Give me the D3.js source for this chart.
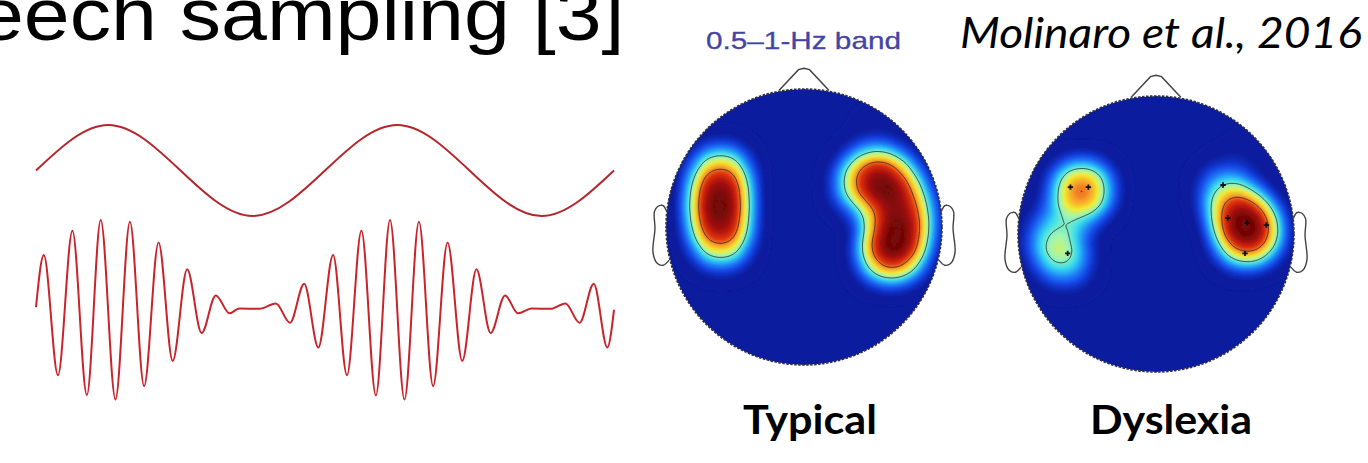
<!DOCTYPE html>
<html>
<head>
<meta charset="utf-8">
<script src="https://cdn.jsdelivr.net/npm/d3@7"></script>
<style>
  body { margin: 0; background: #fff; }
  svg { display: block; }
</style>
</head>
<body>
<svg id="chart" width="1368" height="463"></svg>
<script>
// ---- data ----
// slow envelope (two cycles), time in cycles, amplitude -1..1
const sineT = [0, 0.25, 0.5, 0.75, 1, 1.25, 1.5, 1.75, 2];
const sineV = [0, 1, 0, -1, 0, 1, 0, -1, 0];

// modulated carrier, extrema
const carrierT = [0, 0.027, 0.076, 0.126, 0.176, 0.224, 0.275, 0.325, 0.374, 0.424, 0.473, 0.523, 0.573, 0.622, 0.670, 0.703, 0.773, 0.830, 0.879, 0.928, 0.977,
                  1.028, 1.076, 1.126, 1.176, 1.225, 1.275, 1.325, 1.374, 1.424, 1.475, 1.524, 1.573, 1.623, 1.668, 1.715, 1.781, 1.832, 1.881, 1.930, 1.977, 2.0];
const carrierV = [0.03, 0.61, -0.73, 0.88, -0.95, 1.0, -1.0, 0.98, -0.85, 0.75, -0.57, 0.45, -0.26, 0.16, -0.04, 0.015, 0.01, 0.07, -0.145, 0.29, -0.42,
                  0.61, -0.73, 0.88, -0.955, 1.0, -1.0, 0.98, -0.85, 0.75, -0.57, 0.45, -0.26, 0.16, -0.04, 0.015, 0.01, 0.07, -0.145, 0.29, -0.42, 0.0];

// scalp sources in head units (x right, y towards nose), with weight
const typicalSources = [
  {x: -0.60, y: 0.41, w: 0.85}, {x: -0.61, y: 0.28, w: 1}, {x: -0.62, y: 0.15, w: 1},
  {x: -0.61, y: 0.02, w: 1}, {x: -0.60, y: -0.12, w: 0.85},
  {x: 0.40, y: 0.30, w: 0.8}, {x: 0.51, y: 0.37, w: 0.9}, {x: 0.62, y: 0.34, w: 0.9},
  {x: 0.70, y: 0.21, w: 0.8}, {x: 0.73, y: 0.07, w: 0.8}, {x: 0.71, y: -0.07, w: 0.8},
  {x: 0.60, y: -0.09, w: 0.6}, {x: 0.67, y: -0.21, w: 0.85}, {x: 0.57, y: -0.21, w: 0.6},
  {x: 0.50, y: 0.70, w: 0.12}
];
const dyslexiaSources = [
  {x: -0.58, y: 0.32, w: 0.7}, {x: -0.50, y: 0.33, w: 0.74}, {x: -0.54, y: 0.28, w: 0.45},
  {x: -0.76, y: 0.0, w: 0.47}, {x: -0.70, y: -0.11, w: 0.55}, {x: -0.65, y: -0.22, w: 0.47},
  {x: 0.49, y: 0.34, w: 0.45}, {x: 0.54, y: 0.22, w: 0.55}, {x: 0.62, y: 0.12, w: 0.9},
  {x: 0.68, y: 0.05, w: 1}, {x: 0.63, y: -0.07, w: 0.8}, {x: 0.74, y: 0.0, w: 0.5},
  {x: 0.66, y: 0.62, w: 0.1}
];
const dyslexiaMarkers = [
  {x: -0.62, y: 0.34}, {x: -0.49, y: 0.34}, {x: -0.64, y: -0.14},
  {x: 0.486, y: 0.355}, {x: 0.52, y: 0.116}, {x: 0.66, y: 0.08}, {x: 0.80, y: 0.065}, {x: 0.645, y: -0.14}
];

// head outline parts (topoplot style, head radius = 1)
const earX = [0.994, 1.02, 1.036, 1.06, 1.084, 1.08, 1.094, 1.064, 1.02, 0.978];
const earY = [0.111, 0.155, 0.157, 0.149, 0.111, -0.011, -0.186, -0.263, -0.277, -0.240];
const noseX = [0.18, 0.04, 0, -0.04, -0.18];
const noseY = [0.991, 1.14, 1.15, 1.14, 0.991];

const headLabels = ["Typical", "Dyslexia"];

// ---- setup ----
const W = 1368, H = 463;
const svg = d3.select("#chart");
const defs = svg.append("defs");
defs.append("filter").attr("id", "soft")
    .attr("x", "-10%").attr("y", "-10%").attr("width", "120%").attr("height", "120%")
    .append("feGaussianBlur").attr("stdDeviation", 1.2);

// jet-like colour map, domain is fraction of the map's peak
const jet = d3.scaleLinear()
    .domain([0, 0.06, 0.13, 0.2, 0.29, 0.37, 0.45, 0.55, 0.65, 0.78, 0.92])
    .range(["#0b1d9e", "#0b1d9e", "#1440e0", "#1f7cf8", "#35dcf0", "#a0f5b0", "#f3ee2e", "#f7a02a", "#e43a12", "#b0140a", "#760707"])
    .clamp(true);

// title text (slide is stretched sideways)
svg.append("text")
    .attr("transform", "translate(-22,40) scale(1,0.89)")
    .attr("font-family", "'Liberation Sans', Arial, sans-serif")
    .attr("font-size", 82.5)
    .attr("fill", "#000")
    .text("eech sampling [3]");

// ---- waves ----
let waveX = d3.scaleLinear().domain([0, 2]).range([36, 614]);
let sineY = d3.scaleLinear().domain([-1, 1]).range([216, 125]);
let carY = d3.scaleLinear().domain([-1, 1]).range([399.5, 220]);

svg.append("path")
    .datum(d3.zip(sineT, sineV))
    .attr("d", d3.line().x(d => waveX(d[0])).y(d => sineY(d[1])).curve(d3.curveNatural))
    .attr("fill", "none")
    .attr("stroke", "#b3262b")
    .attr("stroke-width", 2);

svg.append("path")
    .datum(d3.zip(carrierT, carrierV))
    .attr("d", d3.line().x(d => waveX(d[0])).y(d => carY(d[1])).curve(d3.curveMonotoneX))
    .attr("fill", "none")
    .attr("stroke", "#c8242b")
    .attr("stroke-width", 2);

// ---- head maps ----
function drawHead(id, cx, cy, r, sources, markers, label, labelX, labelLen) {
    let hx = d3.scaleLinear().domain([-1, 1]).range([cx - r, cx + r]);
    let hy = d3.scaleLinear().domain([-1, 1]).range([cy + r, cy - r]);
    let g = svg.append("g").attr("class", "head");

    defs.append("clipPath").attr("id", "clip_" + id)
        .append("circle").attr("cx", cx).attr("cy", cy).attr("r", r);

    let density = d3.contourDensity()
        .x(d => hx(d.x)).y(d => hy(d.y)).weight(d => d.w)
        .size([W, H]).cellSize(2).bandwidth(19);

    // first pass just to find the peak
    let probe = density.thresholds(400)(sources);
    let max = d3.max(probe, c => c.value);
    let N = 60;
    let levels = d3.range(1, N).map(i => i / N * max);
    let bands = density.thresholds(levels)(sources);

    let clipped = g.append("g").attr("clip-path", `url(#clip_${id})`);
    clipped.append("circle").attr("cx", cx).attr("cy", cy).attr("r", r).attr("fill", jet(0));
    clipped.append("g").attr("filter", "url(#soft)")
        .selectAll("path")
        .data(bands)
        .enter()
        .append("path")
        .attr("d", d3.geoPath())
        .attr("fill", d => jet(d.value / max));

    // iso lines
    let lines = density.thresholds([0.35 * max, 0.6 * max])(sources);
    clipped.append("g")
        .selectAll("path")
        .data(lines)
        .enter()
        .append("path")
        .attr("d", d3.geoPath())
        .attr("fill", "none")
        .attr("stroke", "#1b1b1b")
        .attr("stroke-width", 0.9)
        .attr("opacity", 0.8);

    // electrode markers
    g.selectAll(".marker")
        .data(markers)
        .enter()
        .append("path")
        .attr("class", "marker")
        .attr("transform", d => `translate(${hx(d.x)},${hy(d.y)})`)
        .attr("d", d3.symbol().type(d3.symbolCross).size(16))
        .attr("fill", "#111");

    // head ring, nose, ears
    g.append("circle").attr("cx", cx).attr("cy", cy).attr("r", r)
        .attr("fill", "none").attr("stroke", "#303040").attr("stroke-width", 1.6)
        .attr("stroke-dasharray", "2.5 1.5");

    let outline = d3.line().x(d => hx(d[0])).y(d => hy(d[1]));
    g.append("path").datum(d3.zip(noseX, noseY))
        .attr("d", outline)
        .attr("fill", "none").attr("stroke", "#404040").attr("stroke-width", 1.4);

    let earLine = d3.line().x(d => hx(d[0])).y(d => hy(d[1])).curve(d3.curveCatmullRom);
    [1, -1].forEach(function (side) {
        g.append("path").datum(d3.zip(earX.map(v => v * side), earY))
            .attr("d", earLine)
            .attr("fill", "none").attr("stroke", "#404040").attr("stroke-width", 1.4);
    });

    svg.append("text")
        .attr("x", labelX).attr("y", 434)
        .attr("font-family", "Lato, 'Open Sans', sans-serif")
        .attr("font-weight", "bold")
        .attr("font-size", 40)
        .attr("textLength", labelLen)
        .attr("lengthAdjust", "spacingAndGlyphs")
        .text(label);
}

drawHead("typ", 804, 227, 138, typicalSources, [], headLabels[0], 743, 134);
drawHead("dys", 1156, 234, 138, dyslexiaSources, dyslexiaMarkers, headLabels[1], 1090, 162);

// figure captions
svg.append("text")
    .attr("x", 706).attr("y", 48.5)
    .attr("font-family", "'Liberation Sans', Arial, sans-serif")
    .attr("font-size", 24)
    .attr("fill", "#4444a6")
    .attr("stroke", "#4444a6")
    .attr("stroke-width", 0.3)
    .attr("textLength", 195)
    .attr("lengthAdjust", "spacingAndGlyphs")
    .text("0.5–1-Hz band");

svg.append("text")
    .attr("x", 960).attr("y", 48)
    .attr("font-family", "Lato, 'Open Sans', sans-serif")
    .attr("font-style", "italic")
    .attr("font-size", 43)
    .attr("fill", "#000")
    .attr("textLength", 402)
    .attr("lengthAdjust", "spacingAndGlyphs")
    .text("Molinaro et al., 2016");
</script>
</body>
</html>
